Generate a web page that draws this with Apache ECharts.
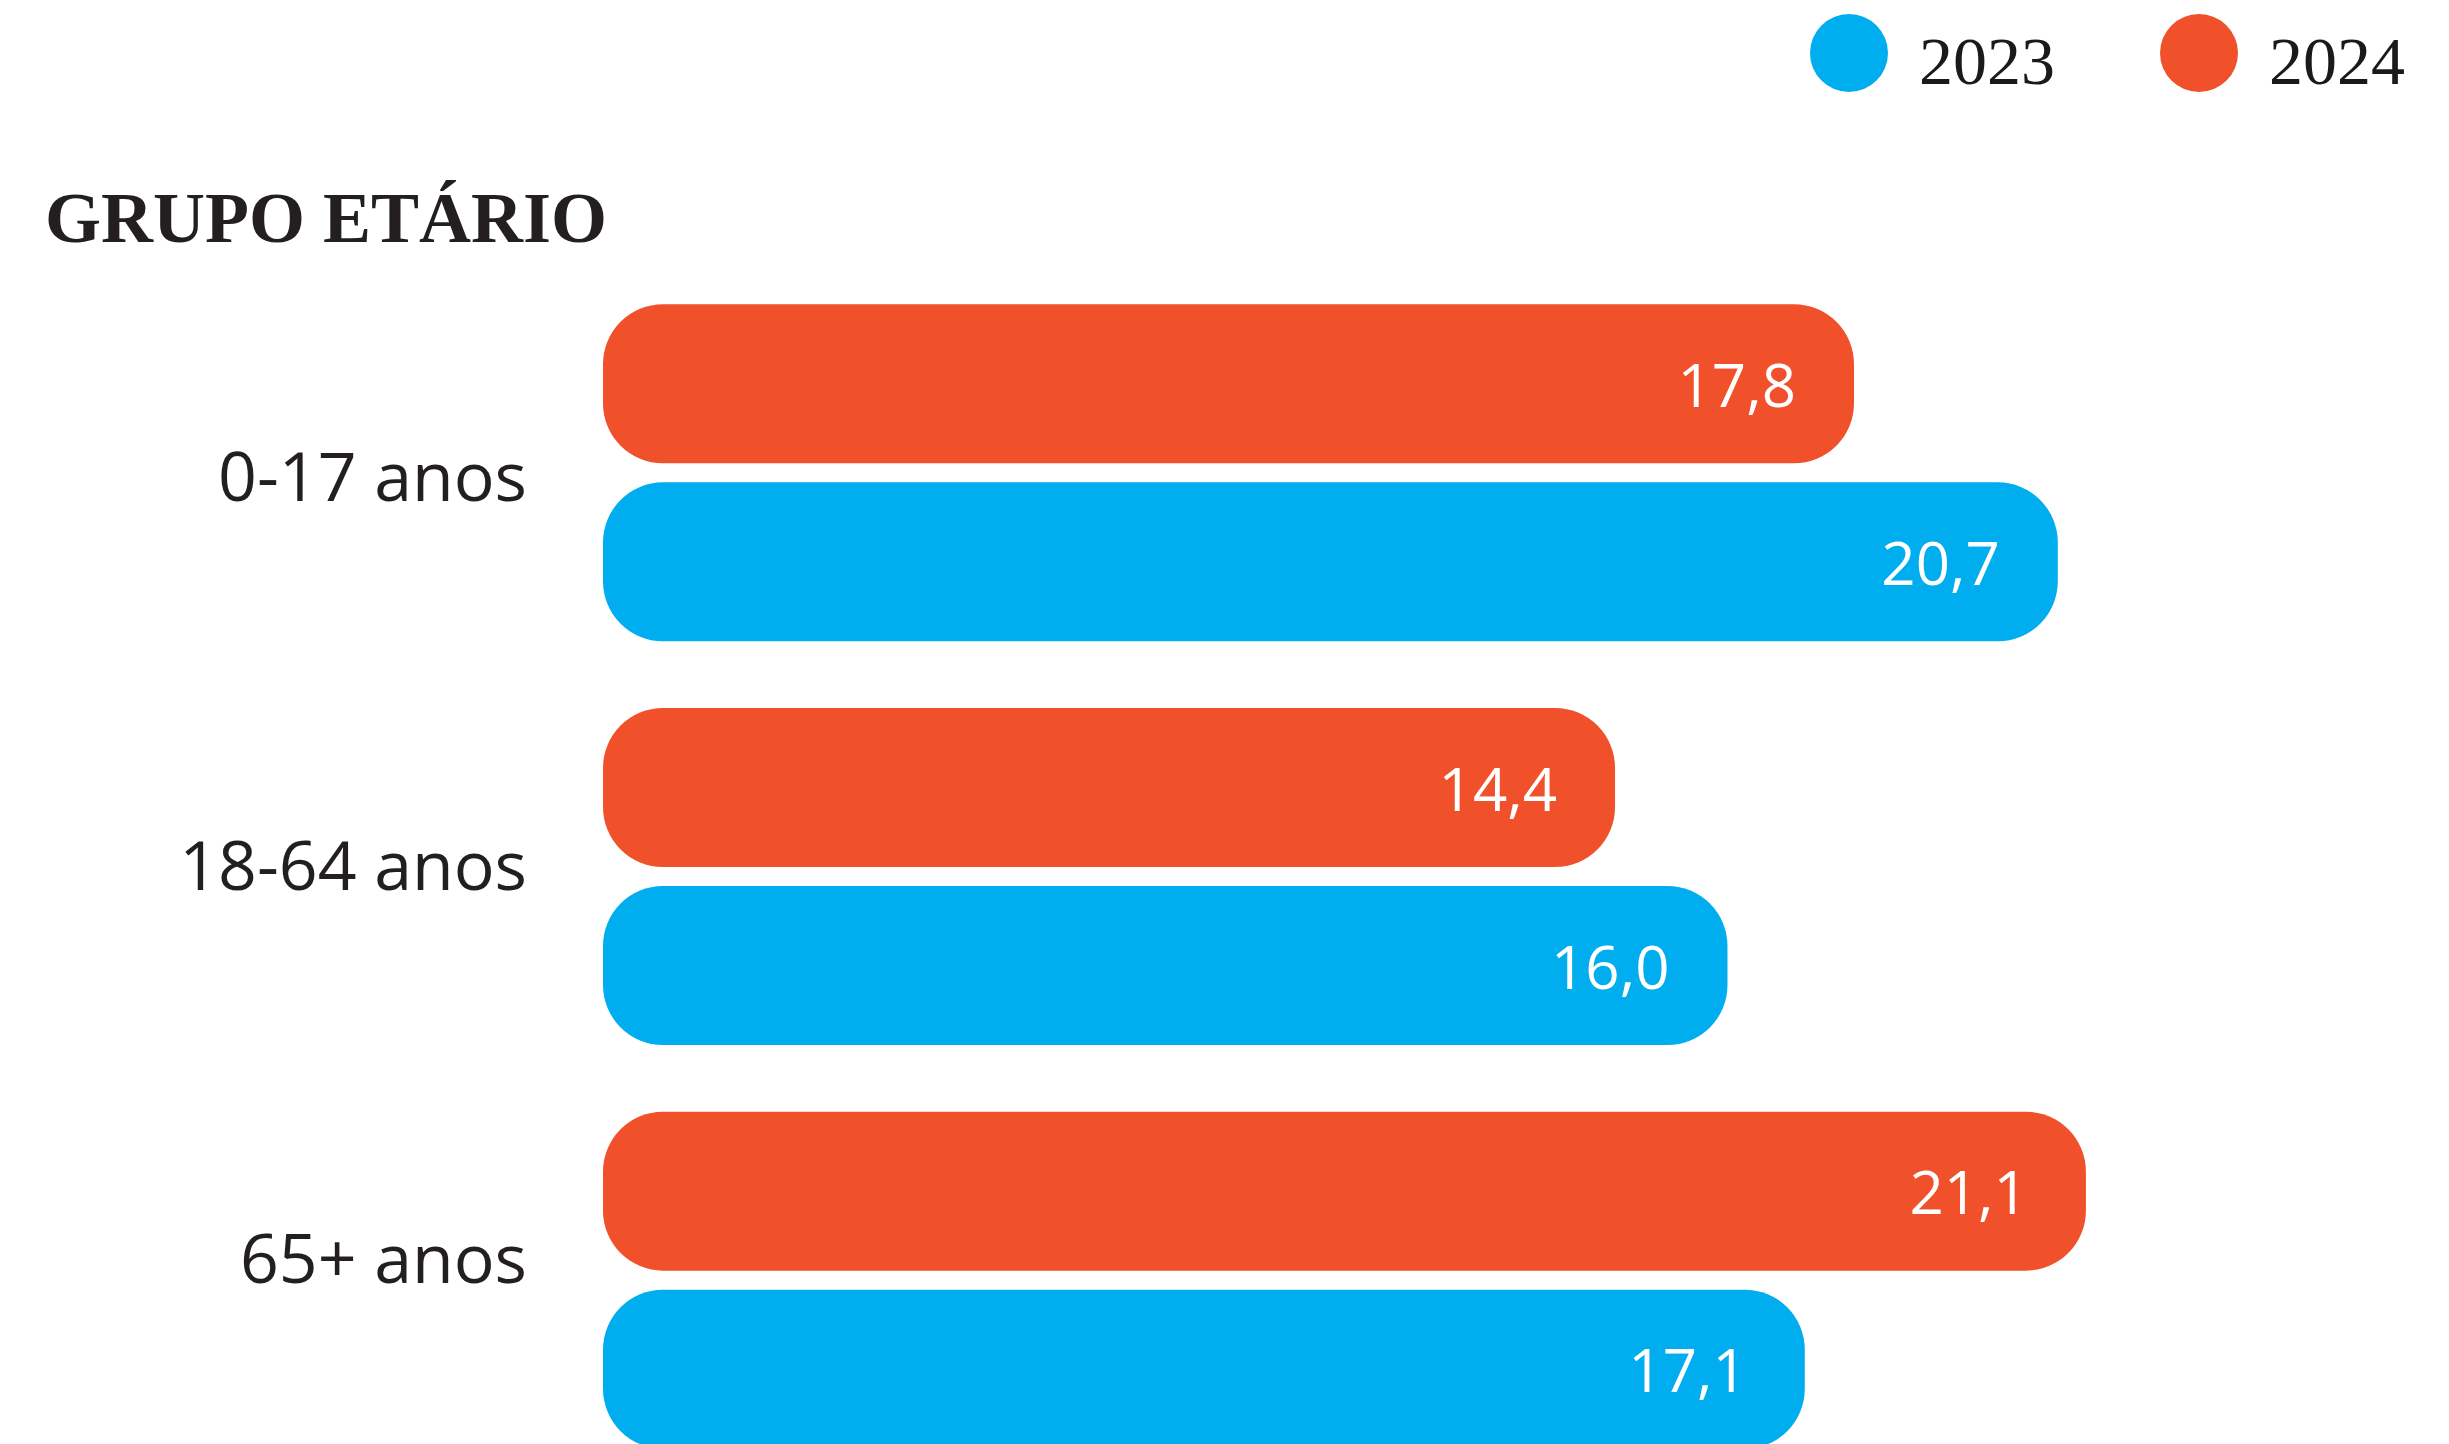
<!DOCTYPE html>
<html>
<head>
<meta charset="utf-8">
<script src="https://cdn.jsdelivr.net/npm/echarts@6/dist/echarts.min.js"></script>
<style>
  html, body { margin: 0; padding: 0; background: #fff; }
  #main { width: 2449px; height: 1444px; }
</style>
</head>
<body>
<div id="main"></div>
<script>
// categorias (de cima para baixo)
const grupos = ['0-17 anos', '18-64 anos', '65+ anos'];
// valores por ano
const valores2023 = [20.7, 16.0, 17.1];
const valores2024 = [17.8, 14.4, 21.1];
const anos = ['2023', '2024'];

const corAzul = '#00AEEF';
const corLaranja = '#F0502A';

// rótulo com vírgula decimal
function fmt(p) {
  return p.value.toFixed(1).replace('.', ',');
}

const labelBarra = {
  show: true,
  position: 'insideRight',
  distance: 58,
  offset: [0, 6],
  color: '#fff',
  fontFamily: 'Open Sans',
  fontSize: 60,
  formatter: fmt,
};

// estilo dos rótulos do eixo (o original não fica exatamente no centro)
const estiloGrupo = {
  fontFamily: 'Open Sans',
  fontSize: 68,
  color: '#231f20',
  lineHeight: 68,
};

const option = {
  animation: false,
  backgroundColor: '#fff',
  title: {
    text: 'GRUPO ETÁRIO',
    left: 45,
    top: 187,
    padding: 0,
    textStyle: {
      fontFamily: 'Liberation Serif',
      fontWeight: 'bold',
      fontSize: 72,
      lineHeight: 72,
      color: '#231f20',
    },
  },
  legend: {
    data: anos,
    left: 1810,
    top: 6,
    padding: 0,
    icon: 'circle',
    itemWidth: 78,
    itemHeight: 78,
    itemGap: 105,
    selectedMode: false,
    formatter: '{t|{name}}',
    textStyle: {
      padding: [0, 0, 0, 26],
      rich: {
        t: {
          fontFamily: 'Liberation Serif',
          fontSize: 68,
          color: '#1a1a1a',
          lineHeight: 68,
          padding: [26, 0, 0, 0],
        },
      },
    },
  },
  grid: {
    left: 603,
    top: 271,
    width: 1757,
    height: 1211,
    outerBoundsMode: 'none',
    containLabel: false,
  },
  xAxis: {
    type: 'value',
    min: 0,
    max: 25,
    show: false,
  },
  yAxis: {
    type: 'category',
    data: grupos,
    inverse: true,
    axisLine: { show: false },
    axisTick: { show: false },
    splitLine: { show: false },
    axisLabel: {
      margin: 76,
      formatter(value, idx) {
        return '{l' + idx + '|' + value + '}';
      },
      rich: {
        l0: Object.assign({ padding: [18, 0, 0, 0] }, estiloGrupo),
        l1: Object.assign({ padding: [0, 0, 12, 0] }, estiloGrupo),
        l2: Object.assign({ padding: [0, 0, 34, 0] }, estiloGrupo),
      },
    },
  },
  // 2024 primeiro para ficar em cima dentro de cada grupo
  series: [
    {
      name: '2024',
      type: 'bar',
      data: valores2024,
      barWidth: 159,
      barGap: '12%',
      itemStyle: { color: corLaranja, borderRadius: 60 },
      label: labelBarra,
    },
    {
      name: '2023',
      type: 'bar',
      data: valores2023,
      barWidth: 159,
      barGap: '12%',
      itemStyle: { color: corAzul, borderRadius: 60 },
      label: labelBarra,
    },
  ],
};

const myChart = echarts.init(document.getElementById('main'));
myChart.setOption(option);
</script>
</body>
</html>
